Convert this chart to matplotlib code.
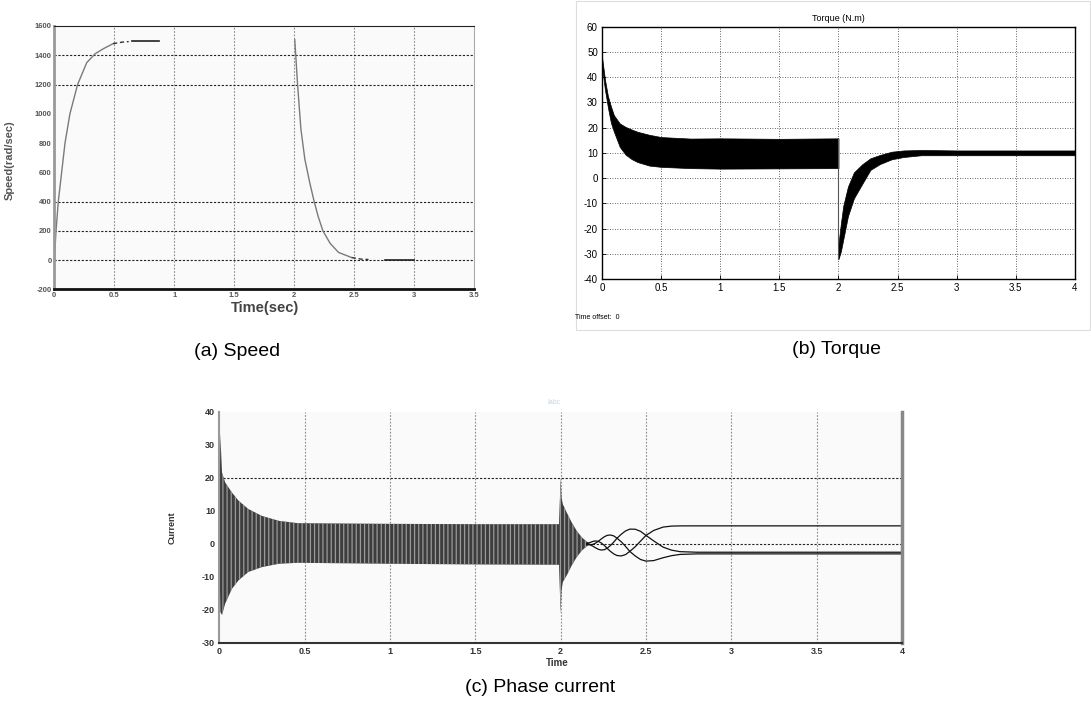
import matplotlib
matplotlib.use("Agg")
import matplotlib.pyplot as plt
from matplotlib.patches import Rectangle

plt.rcParams['font.family'] = ['Liberation Sans', 'DejaVu Sans']
plt.rcParams['hatch.linewidth'] = 0.9

# ---- (a) speed, values
speed_rise_t = [0, 0.014, 0.033, 0.061, 0.089, 0.13, 0.194, 0.27, 0.34, 0.41, 0.49]
speed_rise_v = [0, 200, 400, 600, 800, 1000, 1200, 1349, 1410, 1445, 1479]
speed_rise_dash_t = [0.49, 0.57, 0.62]
speed_rise_dash_v = [1479, 1490, 1493]
speed_hold_t = [0.65, 0.87]
speed_hold_v = [1495, 1495]
speed_fall_t = [2.005, 2.028, 2.056, 2.089, 2.13, 2.167, 2.2, 2.24, 2.30, 2.37, 2.48]
speed_fall_v = [1506, 1205, 897, 690, 529, 400, 299, 200, 115, 53, 18]
speed_fall_dash_t = [2.48, 2.56, 2.62]
speed_fall_dash_v = [18, 7, 5]
speed_stop_t = [2.76, 3.0]
speed_stop_v = [0, 0]
speed_xticks = [0, 0.5, 1, 1.5, 2, 2.5, 3, 3.5]
speed_xlabels = ['0', '0.5', '1', '1.5', '2', '2.5', '3', '3.5']
speed_yticks = [-200, 0, 200, 400, 600, 800, 1000, 1200, 1400, 1600]
speed_grid_y = [0, 200, 400, 1200, 1400]

# ---- (b) torque, ripple band envelopes
torque_t1 = [0, 0.025, 0.05, 0.075, 0.1, 0.15, 0.2, 0.25, 0.3, 0.4, 0.5, 0.75, 1.0, 1.5, 2.0]
torque_hi1 = [48, 39, 32.5, 28.5, 25, 21.7, 20.3, 19.3, 18.4, 17.2, 16.3, 15.7, 15.8, 15.6, 15.8]
torque_lo1 = [44, 35, 28, 22, 18.5, 12.4, 9.3, 7.6, 6.4, 5.0, 4.5, 4.0, 3.8, 3.9, 4.0]
torque_jump_t = [2.0, 2.0]
torque_jump_v = [15.8, -32]
torque_t2 = [2.0, 2.02, 2.04, 2.08, 2.13, 2.2, 2.27, 2.35, 2.45, 2.55, 2.7, 3.0, 4.0]
torque_hi2 = [-26, -18, -11, -3.3, 2.3, 5.5, 7.9, 9.2, 10.5, 11.0, 11.2, 11.0, 11.0]
torque_lo2 = [-32, -29, -24.3, -15, -8, -2.3, 3.3, 5.6, 7.5, 8.4, 9.1, 9.1, 9.1]
torque_xticks = [0, 0.5, 1, 1.5, 2, 2.5, 3, 3.5, 4]
torque_xlabels = ['0', '0.5', '1', '1.5', '2', '2.5', '3', '3.5', '4']
torque_yticks = [-40, -30, -20, -10, 0, 10, 20, 30, 40, 50, 60]

# ---- (c) phase current
cur_t = [0, 0.006, 0.016, 0.035, 0.074, 0.113, 0.17, 0.25, 0.35, 0.46, 1.0, 1.5, 1.99,
         2.0, 2.005, 2.013, 2.036, 2.065, 2.094, 2.124, 2.153, 2.17]
cur_hi = [0, 33.5, 21.6, 18.6, 15.6, 13.1, 10.6, 8.5, 7.0, 6.3, 6.1, 6.0, 6.0,
          20, 14, 12, 9.5, 6.5, 4, 2, 0.7, 0.2]
cur_lo = [0, -20.6, -21.5, -18, -13.6, -11, -8.5, -7, -6, -5.7, -6.0, -6.2, -6.3,
          -21, -14, -11.5, -9.5, -6.5, -4, -2, -0.7, -0.2]
ph_t = [2.153, 2.170, 2.187, 2.203, 2.220, 2.237, 2.255, 2.272, 2.291, 2.311, 2.330, 2.355,
        2.380, 2.405, 2.437, 2.468, 2.500, 2.545, 2.600, 2.650, 2.700, 2.800, 4.0]
ph_a = [0.19, 0.40, 0.75, 0.92, 0.80, 0.34, -0.40, -1.30, -2.22, -3.01, -3.50, -3.62,
        -3.22, -2.25, -0.83, 0.87, 2.60, 4.10, 5.12, 5.42, 5.48, 5.49, 5.49]
ph_b = [-0.15, -0.20, -0.14, 0.21, 0.80, 1.49, 2.16, 2.60, 2.73, 2.45, 1.75, 0.67,
        -0.73, -2.25, -3.64, -4.70, -5.20, -5.03, -4.17, -3.54, -3.16, -3.00, -3.00]
ph_c = [-0.03, -0.20, -0.61, -1.13, -1.60, -1.83, -1.76, -1.30, -0.50, 0.56, 1.75, 2.95,
        3.95, 4.50, 4.47, 3.83, 2.60, 0.93, -0.95, -1.88, -2.33, -2.50, -2.50]
cur_xticks = [0, 0.5, 1, 1.5, 2, 2.5, 3, 3.5, 4]
cur_xlabels = ['0', '0.5', '1', '1.5', '2', '2.5', '3', '3.5', '4']
cur_yticks = [-30, -20, -10, 0, 10, 20, 30, 40]
cur_grid_y = [0, 20]

fig = plt.figure(figsize=(10.91, 7.13), dpi=100)

# (a)
ax1 = fig.add_axes([0.0498, 0.594, 0.3847, 0.3696])
ax1.set_facecolor('#fafafa')
for x in speed_xticks[1:-1]:
    ax1.axvline(x, color='#8a8a8a', lw=0.8, ls=(0, (1.5, 1.5)), zorder=0.5)
for y in speed_grid_y:
    ax1.axhline(y, color='#222222', lw=0.8, ls=(0, (2, 1.5)), zorder=0.5)
ax1.plot(speed_rise_t, speed_rise_v, color='#7a7a7a', lw=1)
ax1.plot(speed_rise_dash_t, speed_rise_dash_v, color='#333333', lw=1, ls=(0, (3, 2)))
ax1.plot(speed_hold_t, speed_hold_v, color='#222222', lw=1.2)
ax1.plot(speed_fall_t, speed_fall_v, color='#7a7a7a', lw=1)
ax1.plot(speed_fall_dash_t, speed_fall_dash_v, color='#333333', lw=1, ls=(0, (3, 2)))
ax1.plot(speed_stop_t, speed_stop_v, color='#222222', lw=1.2)
ax1.set_xlim(0, 3.5)
ax1.set_ylim(-200, 1600)
ax1.set_xticks(speed_xticks)
ax1.set_xticklabels(speed_xlabels, fontsize=5.5, fontweight='bold', color='#555555')
ax1.set_yticks(speed_yticks)
ax1.set_yticklabels([str(v) for v in speed_yticks], fontsize=5.5, fontweight='bold', color='#555555')
ax1.tick_params(length=0, pad=2)
ax1.spines['left'].set_color('#999999')
ax1.spines['left'].set_linewidth(2)
ax1.spines['bottom'].set_color('#111111')
ax1.spines['bottom'].set_linewidth(2)
ax1.spines['top'].set_color('#222222')
ax1.spines['right'].set_color('#aaaaaa')
ax1.set_xlabel('Time(sec)', fontsize=10.5, fontweight='bold', color='#444444')
ax1.xaxis.set_label_coords(0.502, -0.044)
ax1.set_ylabel('Speed(rad/sec)', fontsize=8, fontweight='bold', color='#555555')
ax1.yaxis.set_label_coords(-0.094, 0.49)

# (b)
ax2 = fig.add_axes([0.5518, 0.6083, 0.4335, 0.3543])
ax2.set_facecolor('white')
ax2.grid(True, color='#333333', lw=0.6, ls=(0, (1, 2)))
ax2.set_axisbelow(True)
ax2.fill_between(torque_t1, torque_lo1, torque_hi1, color='black', lw=0.5)
ax2.plot(torque_jump_t, torque_jump_v, color='#555555', lw=0.8)
ax2.fill_between(torque_t2, torque_lo2, torque_hi2, color='black', lw=0.5)
ax2.set_xlim(0, 4)
ax2.set_ylim(-40, 60)
ax2.set_xticks(torque_xticks)
ax2.set_xticklabels(torque_xlabels, fontsize=7)
ax2.set_yticks(torque_yticks)
ax2.set_yticklabels([str(v) for v in torque_yticks], fontsize=7)
ax2.tick_params(direction='in', length=3, pad=3, width=0.6)
for s in ax2.spines.values():
    s.set_linewidth(1.0)
ax2.set_title('Torque (N.m)', fontsize=6.5, pad=4)
fig.text(575 / 1091, 1 - 318 / 713, 'Time offset:  0', fontsize=5, va='center')
fig.add_artist(Rectangle((576 / 1091, 1 - 330 / 713), (1091 - 577) / 1091, 329 / 713,
                         transform=fig.transFigure, fill=False, edgecolor='#dddddd', lw=0.8))

# (c)
ax3 = fig.add_axes([0.2010, 0.0982, 0.6258, 0.3240])
ax3.set_facecolor('#fafafa')
for x in cur_xticks[1:-1]:
    ax3.axvline(x, color='#8a8a8a', lw=0.8, ls=(0, (1.5, 1.5)), zorder=0.5)
for y in cur_grid_y:
    ax3.axhline(y, color='#222222', lw=0.8, ls=(0, (2, 1.5)), zorder=0.5)
ax3.fill_between(cur_t, cur_lo, cur_hi, facecolor='#3d3d3d', edgecolor='#9a9a9a',
                 hatch='||||', lw=0)
ax3.plot(ph_t, ph_a, color='#111111', lw=0.9)
ax3.plot(ph_t, ph_b, color='#111111', lw=0.9)
ax3.plot(ph_t, ph_c, color='#111111', lw=0.9)
ax3.set_xlim(0, 4)
ax3.set_ylim(-30, 40)
ax3.set_xticks(cur_xticks)
ax3.set_xticklabels(cur_xlabels, fontsize=6.5, fontweight='bold', color='#333333')
ax3.set_yticks(cur_yticks)
ax3.set_yticklabels([str(v) for v in cur_yticks], fontsize=6.5, fontweight='bold', color='#333333')
ax3.tick_params(length=0, pad=3)
ax3.spines['top'].set_visible(False)
ax3.spines['left'].set_color('#999999')
ax3.spines['left'].set_linewidth(1.5)
ax3.spines['bottom'].set_color('#333333')
ax3.spines['bottom'].set_linewidth(1.5)
ax3.spines['right'].set_color('#888888')
ax3.spines['right'].set_linewidth(2.5)
ax3.set_xlabel('Time', fontsize=7, fontweight='bold', color='#333333')
ax3.xaxis.set_label_coords(0.495, -0.065)
ax3.set_ylabel('Current', fontsize=6.5, fontweight='bold', color='#333333')
ax3.yaxis.set_label_coords(-0.062, 0.5)
fig.text(547 / 1091, 1 - 402 / 713, 'Iabc', fontsize=5, color='#c5d3dc', va='center')

# captions
fig.text(237 / 1091, 1 - 352 / 713, '(a) Speed', ha='center', va='center', fontsize=14)
fig.text(837 / 1091, 1 - 350 / 713, '(b) Torque', ha='center', va='center', fontsize=14)
fig.text(540 / 1091, 1 - 688 / 713, '(c) Phase current', ha='center', va='center', fontsize=14)

fig.savefig('out.png', dpi=100)
